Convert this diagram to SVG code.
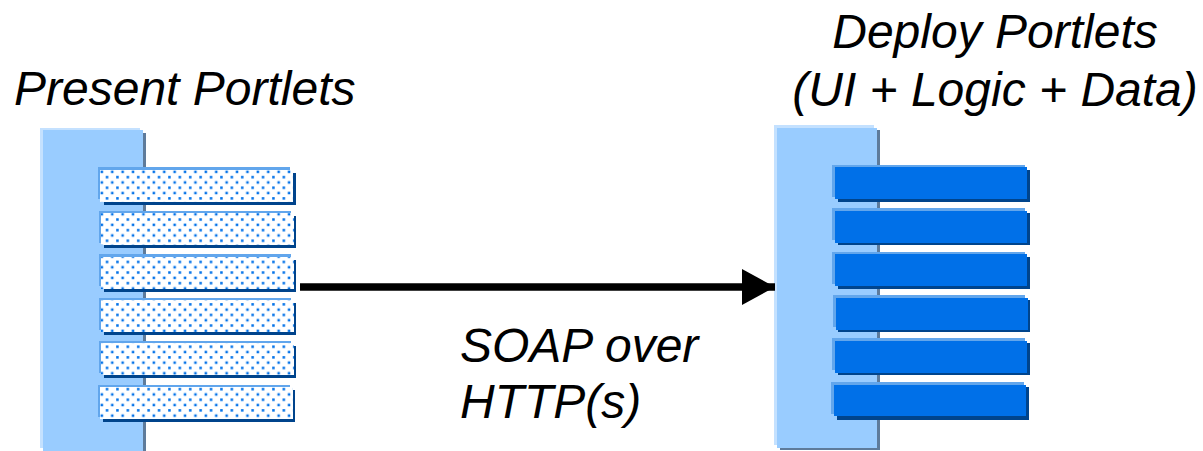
<svg xmlns="http://www.w3.org/2000/svg" width="1203" height="451" viewBox="0 0 1203 451">
<defs>
<pattern id="dots" x="100" y="170" width="10.4" height="10.6" patternUnits="userSpaceOnUse">
<rect x="0.6" y="0.6" width="2.5" height="2.5" fill="#0070E8"/>
<rect x="5.8" y="5.9" width="2.5" height="2.5" fill="#0070E8"/>
</pattern>
<marker id="arr" markerUnits="userSpaceOnUse" markerWidth="34" markerHeight="36" refX="33" refY="18" orient="auto">
<path d="M0,0 L33,18 L0,36 Z" fill="#000"/>
</marker>
</defs>
<style>
.ttl{font-family:"Liberation Sans",Arial,sans-serif;font-style:italic;font-size:48px;fill:#000}
.phl{fill:#C4E1FF}.pm{fill:#99CCFF}.psh{fill:#5E7B9B}
.bhl{fill:#62A6EC}.bsh{fill:#00448C}
.bw{fill:#fff}.bd{fill:url(#dots)}.bb{fill:#0070E8}
</style>
<g id="present-portlets">
<text class="ttl" x="14" y="105">Present Portlets</text>
<rect class="psh" x="46" y="133" width="100" height="320"/>
<rect class="phl" x="40" y="128" width="100" height="320"/>
<rect class="pm" x="43" y="130" width="100" height="322"/>
<g id="present-bars">
<g><rect class="bsh" x="104" y="173" width="192" height="32"/><rect class="bhl" x="98" y="167" width="192" height="32"/><rect class="bw" x="100" y="170" width="193" height="32"/><rect class="bd" x="100" y="170" width="193" height="32"/></g>
<g><rect class="bsh" x="104" y="216" width="192" height="32"/><rect class="bhl" x="99" y="211" width="192" height="32"/><rect class="bw" x="101" y="213" width="193" height="32"/><rect class="bd" x="101" y="213" width="193" height="32"/></g>
<g><rect class="bsh" x="104" y="260" width="192" height="32"/><rect class="bhl" x="99" y="254" width="192" height="32"/><rect class="bw" x="101" y="257" width="193" height="32"/><rect class="bd" x="101" y="257" width="193" height="32"/></g>
<g><rect class="bsh" x="104" y="303" width="192" height="32"/><rect class="bhl" x="99" y="298" width="192" height="32"/><rect class="bw" x="101" y="300" width="193" height="32"/><rect class="bd" x="101" y="300" width="193" height="32"/></g>
<g><rect class="bsh" x="104" y="346" width="192" height="32"/><rect class="bhl" x="99" y="341" width="192" height="32"/><rect class="bw" x="101" y="343" width="193" height="32"/><rect class="bd" x="101" y="343" width="193" height="32"/></g>
<g><rect class="bsh" x="103" y="390" width="192" height="32"/><rect class="bhl" x="98" y="385" width="192" height="32"/><rect class="bw" x="100" y="387" width="193" height="32"/><rect class="bd" x="100" y="387" width="193" height="32"/></g>
</g>
</g>
<g id="deploy-portlets">
<text class="ttl" x="995" y="48" text-anchor="middle">Deploy Portlets</text>
<text class="ttl" x="995" y="106" text-anchor="middle">(UI + Logic + Data)</text>
<rect class="psh" x="780" y="130" width="100" height="320"/>
<rect class="phl" x="774" y="125" width="100" height="320"/>
<rect class="pm" x="777" y="128" width="100" height="320"/>
<g id="deploy-bars">
<g><rect class="bsh" x="838" y="170" width="192" height="32"/><rect class="bhl" x="832" y="165" width="193" height="32"/><rect class="bb" x="835" y="167" width="192" height="32"/></g>
<g><rect class="bsh" x="838" y="213" width="192" height="32"/><rect class="bhl" x="832" y="208" width="193" height="32"/><rect class="bb" x="835" y="211" width="192" height="32"/></g>
<g><rect class="bsh" x="838" y="257" width="192" height="32"/><rect class="bhl" x="832" y="252" width="193" height="32"/><rect class="bb" x="835" y="254" width="192" height="32"/></g>
<g><rect class="bsh" x="838" y="300" width="192" height="32"/><rect class="bhl" x="833" y="295" width="192" height="32"/><rect class="bb" x="836" y="298" width="192" height="32"/></g>
<g><rect class="bsh" x="838" y="343" width="192" height="32"/><rect class="bhl" x="832" y="338" width="193" height="32"/><rect class="bb" x="835" y="341" width="192" height="32"/></g>
<g><rect class="bsh" x="837" y="387" width="192" height="33"/><rect class="bhl" x="831" y="382" width="193" height="32"/><rect class="bb" x="834" y="385" width="192" height="31"/></g>
</g>
</g>
<g id="connectors">
<line x1="300" y1="287" x2="775" y2="287" stroke="#000" stroke-width="7.5" marker-end="url(#arr)"/>
<text class="ttl" x="460" y="362">SOAP over</text>
<text class="ttl" x="460" y="418">HTTP(s)</text>
</g>
</svg>
